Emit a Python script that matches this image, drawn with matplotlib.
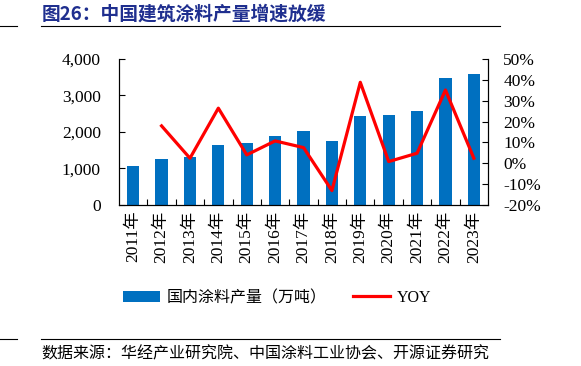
import matplotlib
matplotlib.use("Agg")
import matplotlib.pyplot as plt
from matplotlib.lines import Line2D
from matplotlib.patches import Patch
from matplotlib.ticker import FuncFormatter, MultipleLocator

# --------------------------
# Data
# --------------------------
years = ["2011年", "2012年", "2013年", "2014年", "2015年", "2016年", "2017年",
         "2018年", "2019年", "2020年", "2021年", "2022年", "2023年"]
output = [1070, 1260, 1300, 1640, 1710, 1890, 2030, 1750, 2430, 2460, 2580, 3480, 3580]
yoy = [None, 17.9, 2.4, 26.4, 4.0, 10.7, 7.5, -13.1, 38.8, 0.8, 4.8, 35.1, 2.4]

title = "图26：中国建筑涂料产量增速放缓"
source = "数据来源：华经产业研究院、中国涂料工业协会、开源证券研究"

fonts = ["Liberation Serif", "Noto Sans CJK SC"]
plt.rcParams["font.family"] = fonts

# --------------------------
# Figure
# --------------------------
fig = plt.figure(figsize=(5.81, 3.66), dpi=100)
ax = fig.add_axes([0.2048, 0.440, 0.6352, 0.399])
ax2 = ax.twinx()

x = list(range(len(years)))
ax.bar(x, output, width=0.43, color="#0070C0", zorder=2)

yoy_x = [i for i, v in zip(x, yoy) if v is not None]
yoy_y = [v for v in yoy if v is not None]
ax2.plot(yoy_x, yoy_y, color="#FF0000", lw=2.3, zorder=3)

ax.set_xlim(-0.5, len(years) - 0.5)
ax.set_ylim(0, 4000)
ax2.set_ylim(-20, 50)
ax.yaxis.set_major_locator(MultipleLocator(1000))
ax2.yaxis.set_major_locator(MultipleLocator(10))
ax.yaxis.set_major_formatter(FuncFormatter(lambda v, p: f"{int(v):,}"))
ax2.yaxis.set_major_formatter(FuncFormatter(lambda v, p: f"{int(v)}%"))

ax.set_xticks(x)
ax.set_xticklabels(years, rotation=90, fontsize=12.5)
ax.set_xticks([i + 0.5 for i in x[:-1]], minor=True)
ax.tick_params(axis="x", which="major", length=0, pad=4)
ax.tick_params(axis="x", which="minor", direction="in", length=4, width=0.8)
ax.tick_params(axis="y", direction="in", length=4, width=0.8, labelsize=12.5, pad=13)
ax2.tick_params(axis="y", direction="in", length=4, width=0.8, labelsize=12.5, pad=11)

for a in (ax, ax2):
    a.spines["top"].set_visible(False)
    for s in ("left", "right", "bottom"):
        a.spines[s].set_linewidth(0.8)
ax.patch.set_visible(False)
ax.set_zorder(ax2.get_zorder() - 1)
ax2.patch.set_visible(False)

# legend
handles = [Patch(facecolor="#0070C0", edgecolor="none"),
           Line2D([0], [0], color="#FF0000", lw=2.3)]
fig.legend(handles, ["国内涂料产量（万吨）", "YOY"], loc="center",
           bbox_to_anchor=(0.477, 0.186), ncol=2, frameon=False, fontsize=11.5,
           handlelength=2.3, handleheight=0.7, columnspacing=1.7, handletextpad=0.4)

# title, rules and source
fig.text(0.072, 0.962, title, fontsize=13.5, fontweight="bold", color="#1F2F8F",
         va="center", ha="left", family=["Noto Sans CJK SC"])
for yy in (1 - 26 / 366, 1 - 339 / 366):
    fig.add_artist(Line2D([41 / 581, 500 / 581], [yy, yy], transform=fig.transFigure,
                          color="black", lw=0.8))
    fig.add_artist(Line2D([0, 17 / 581], [yy, yy], transform=fig.transFigure,
                          color="black", lw=0.8))
fig.text(0.072, 1 - 354 / 366, source, fontsize=11.5, color="black",
         va="center", ha="left", family=["Noto Sans CJK SC"])

fig.savefig("out.png", dpi=100)
